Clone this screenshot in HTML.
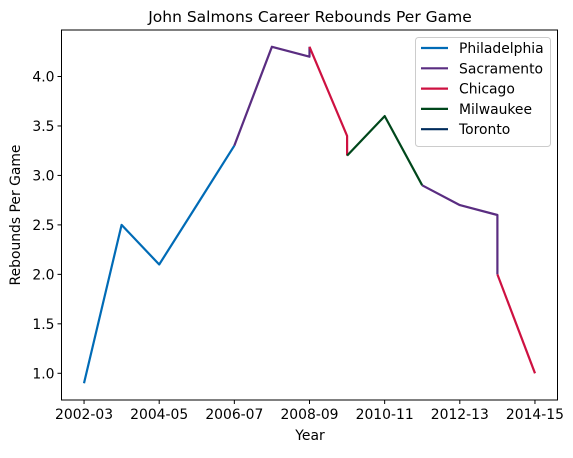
<!DOCTYPE html>
<html><head><meta charset="utf-8"><style>
body{margin:0;background:#fff;}
svg text{font-family:"DejaVu Sans","Liberation Sans",sans-serif;fill:#000;}
</style></head><body>
<svg width="573" height="453" viewBox="0 0 573 453">
<rect x="0" y="0" width="573" height="453" fill="#fff"/>
<text x="310" y="22" font-size="15.5" text-anchor="middle">John Salmons Career Rebounds Per Game</text>
<g id="plot"></g>
<g id="axes"></g>
<text x="310" y="440" font-size="13.9" text-anchor="middle">Year</text>
<text transform="translate(20,215) rotate(-90)" font-size="13.9" text-anchor="middle">Rebounds Per Game</text>
<g id="legend"></g>
</svg>
<script>
const seasons=["2002-03","2003-04","2004-05","2005-06","2006-07","2007-08","2008-09","2009-10","2010-11","2011-12","2012-13","2013-14","2014-15"];
const xTickIdx=[0,2,4,6,8,10,12];
const yTicks=[1.0,1.5,2.0,2.5,3.0,3.5,4.0];
const teams=["Philadelphia","Sacramento","Chicago","Milwaukee","Toronto"];
const teamColors=["#006bb6","#5a2d81","#ce1141","#00471b","#002b5c"];
const segTeam=["Philadelphia","Sacramento","Chicago","Milwaukee","Sacramento","Chicago"];
const segX=[[0,1,2,3,4],[4,5,6,6],[6,7,7],[7,8,9],[9,10,11,11],[11,12]];
const segY=[[0.9,2.5,2.1,2.7,3.3],[3.3,4.3,4.2,4.3],[4.3,3.4,3.2],[3.2,3.6,2.9],[2.9,2.7,2.6,2.0],[2.0,1.0]];

const NS="http://www.w3.org/2000/svg";
const L=61.5,R=557.5,T=30,B=400;
const xmin=-0.6,xmax=12.6,ymin=0.73,ymax=4.47;
const xs=v=>L+(v-xmin)/(xmax-xmin)*(R-L);
const ys=v=>B-(v-ymin)/(ymax-ymin)*(B-T);
function mk(tag,attrs,parent){const e=document.createElementNS(NS,tag);for(const k in attrs)e.setAttribute(k,attrs[k]);parent.appendChild(e);return e;}
const plot=document.getElementById('plot'),axes=document.getElementById('axes'),leg=document.getElementById('legend');
segX.forEach((xa,i)=>{
  const pts=xa.map((x,j)=>xs(x).toFixed(1)+","+ys(segY[i][j]).toFixed(1)).join(" ");
  const p=mk('polyline',{points:pts,fill:"none",stroke:teamColors[teams.indexOf(segTeam[i])],"stroke-width":2.2,"stroke-linejoin":"round"},plot);
  
  
});
const frame=mk('rect',{x:L,y:T,width:R-L,height:B-T,fill:"none",stroke:"#000","stroke-width":1},axes);


xTickIdx.forEach(i=>{
  const x=xs(i);
  const t=mk('line',{x1:x,x2:x,y1:B,y2:B+4,stroke:"#000"},axes);
  
  
  const tx=mk('text',{x:x,y:B+19,"font-size":13.9,"text-anchor":"middle"},axes);
  tx.textContent=seasons[i];
  
  
});
yTicks.forEach(v=>{
  const y=ys(v);
  const t=mk('line',{x1:L-4,x2:L,y1:y,y2:y,stroke:"#000"},axes);
  
  
  const tx=mk('text',{x:L-7,y:y+5,"font-size":13.9,"text-anchor":"end"},axes);
  tx.textContent=v.toFixed(1);
  
  
});
const box=mk('rect',{x:415.5,y:37.5,width:135,height:109,rx:3,fill:"#fff","fill-opacity":0.8,stroke:"#ccc"},leg);


teams.forEach((tm,i)=>{
  const y=48+i*20.3;
  const l=mk('line',{x1:421,x2:448,y1:y,y2:y,stroke:teamColors[i],"stroke-width":2.2},leg);
  
  
  const tx=mk('text',{x:459,y:y+5,"font-size":13.9},leg);
  tx.textContent=tm;
  
  
});
</script>
</body></html>
